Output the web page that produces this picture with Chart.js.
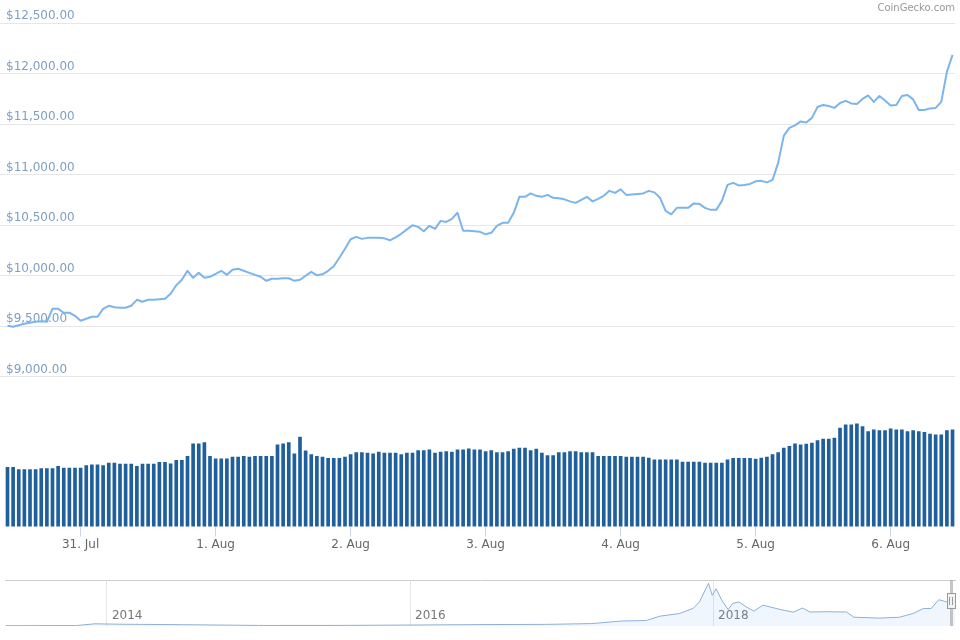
<!DOCTYPE html>
<html>

<head>
    <meta charset="utf-8">
    <script src="https://cdn.jsdelivr.net/npm/chart.js@4.4.2/dist/chart.umd.min.js"></script>
    <style>
        body { margin: 0; background: #fff; }
        #main { position: absolute; left: 0; top: 0; width: 960px; height: 560px; }
        #nav { position: absolute; left: 0; top: 560px; width: 960px; height: 80px; }
    </style>
</head>

<body>
    <div id="main"><canvas id="chart"></canvas></div>
    <div id="nav"><canvas id="navigator"></canvas></div>
</body>
<script>
    // hourly data, index 0 = 30 Jul 11:00
    const prices = [
        9504, 9494, 9509, 9524, 9534, 9544, 9549, 9544, 9672, 9672,
        9633, 9633, 9603, 9554, 9573, 9593, 9593, 9672, 9702, 9687,
        9682, 9682, 9702, 9761, 9742, 9761, 9761, 9766, 9771, 9821,
        9905, 9959, 10048, 9979, 10028, 9979, 9989, 10018, 10048, 10008,
        10058, 10068, 10048, 10028, 10008, 9989, 9949, 9969, 9969, 9974,
        9974, 9949, 9959, 9999, 10038, 10003, 10013, 10048, 10093, 10177,
        10266, 10360, 10384, 10364, 10374, 10374, 10374, 10369, 10350, 10379,
        10414, 10458, 10498, 10483, 10439, 10493, 10463, 10542, 10532, 10562,
        10622, 10444, 10444, 10439, 10434, 10409, 10424, 10493, 10523, 10523,
        10622, 10780, 10780, 10814, 10790, 10780, 10799, 10770, 10765, 10755,
        10735, 10720, 10750, 10780, 10735, 10760, 10790, 10839, 10819, 10854,
        10799, 10804, 10809, 10814, 10839, 10824, 10770, 10641, 10607, 10671,
        10671, 10671, 10715, 10710, 10671, 10651, 10651, 10740, 10898, 10918,
        10893, 10898, 10908, 10933, 10938, 10923, 10948, 11116, 11383, 11462,
        11487, 11526, 11516, 11561, 11669, 11689, 11679, 11660, 11709, 11729,
        11704, 11699, 11749, 11783, 11719, 11778, 11734, 11684, 11689, 11778,
        11788, 11744, 11640, 11640, 11655, 11660, 11719, 12016, 12184
    ];

    const volumes = [
        5.88, 5.88, 5.65, 5.65, 5.65, 5.65, 5.75, 5.75, 5.75, 5.98,
        5.82, 5.82, 5.82, 5.82, 6.07, 6.14, 6.14, 6.07, 6.31, 6.31,
        6.21, 6.21, 6.21, 5.98, 6.21, 6.21, 6.21, 6.37, 6.37, 6.24,
        6.57, 6.57, 6.97, 8.23, 8.23, 8.35, 6.97, 6.74, 6.74, 6.74,
        6.91, 6.91, 6.97, 6.91, 6.97, 6.97, 6.97, 6.97, 8.13, 8.23,
        8.35, 7.23, 8.89, 7.53, 7.14, 6.97, 6.91, 6.77, 6.77, 6.77,
        6.91, 7.14, 7.36, 7.36, 7.30, 7.23, 7.40, 7.30, 7.30, 7.30,
        7.14, 7.30, 7.30, 7.56, 7.56, 7.63, 7.30, 7.40, 7.46, 7.40,
        7.63, 7.63, 7.73, 7.63, 7.63, 7.46, 7.56, 7.36, 7.36, 7.46,
        7.70, 7.80, 7.80, 7.56, 7.70, 7.30, 7.04, 7.04, 7.36, 7.36,
        7.46, 7.46, 7.36, 7.36, 7.36, 6.97, 6.97, 6.97, 6.97, 6.97,
        6.91, 6.91, 6.91, 6.91, 6.81, 6.64, 6.64, 6.64, 6.64, 6.64,
        6.41, 6.41, 6.41, 6.41, 6.31, 6.31, 6.31, 6.31, 6.64, 6.77,
        6.77, 6.77, 6.77, 6.71, 6.81, 6.91, 7.14, 7.36, 7.80, 7.96,
        8.23, 8.13, 8.20, 8.29, 8.55, 8.69, 8.69, 8.79, 9.78, 10.11,
        10.11, 10.21, 9.94, 9.44, 9.61, 9.54, 9.54, 9.71, 9.61, 9.61,
        9.44, 9.54, 9.44, 9.35, 9.19, 9.12, 9.12, 9.54, 9.61
    ];

    const dayTicks = [13, 37, 61, 85, 109, 133, 157];
    const dayLabels = ['31. Jul', '1. Aug', '2. Aug', '3. Aug', '4. Aug', '5. Aug', '6. Aug'];
    const priceTicks = [9000, 9500, 10000, 10500, 11000, 11500, 12000, 12500];

    // full history for the navigator
    const navYears = [2013.33, 2013.8, 2013.92, 2014.1, 2014.5, 2015.0, 2015.5, 2016.0, 2016.5, 2016.9,
        2017.2, 2017.4, 2017.56, 2017.65, 2017.78, 2017.87, 2017.91, 2017.97, 2017.995, 2018.02,
        2018.06, 2018.10, 2018.13, 2018.17, 2018.22, 2018.27, 2018.33, 2018.44, 2018.53, 2018.59,
        2018.64, 2018.75, 2018.88, 2018.93, 2019.10, 2019.23, 2019.32, 2019.39, 2019.44, 2019.49,
        2019.54, 2019.597];
    const navPrices = [130, 200, 1000, 800, 600, 250, 260, 430, 650, 740,
        1100, 2300, 2500, 4500, 5700, 8100, 11000, 19500, 14000, 17000,
        11500, 7500, 10300, 11000, 8700, 6800, 9500, 7600, 6300, 8200,
        6400, 6500, 6400, 4000, 3600, 4000, 5700, 8000, 8000, 12000,
        11000, 12000];
    const navTicks = [2014, 2016, 2018];

    Chart.defaults.font.family = '"DejaVu Sans", sans-serif';
    Chart.defaults.animation = false;

    new Chart(document.getElementById('chart'), {
        data: {
            datasets: [
                {
                    type: 'line',
                    data: prices.map((p, i) => ({ x: i, y: p })),
                    borderColor: '#7cb5ec',
                    borderWidth: 2,
                    borderJoinStyle: 'round',
                    pointRadius: 0,
                    tension: 0,
                    yAxisID: 'y',
                    order: 0
                },
                {
                    type: 'bar',
                    data: volumes.map((v, i) => ({ x: i, y: v })),
                    backgroundColor: '#1f5f9c',
                    barThickness: 3,
                    yAxisID: 'yv',
                    order: 1
                }
            ]
        },
        options: {
            responsive: true,
            maintainAspectRatio: false,
            // the mirrored y axis still reserves 12px, pull the plot back to the edge
            layout: { padding: { left: -12, right: 5, top: 0, bottom: 7 } },
            plugins: {
                legend: { display: false },
                tooltip: { enabled: false },
                title: {
                    display: true,
                    text: 'CoinGecko.com',
                    align: 'end',
                    color: '#999',
                    font: { size: 10, weight: 'normal' },
                    padding: { top: 2, bottom: 9 }
                }
            },
            scales: {
                x: {
                    type: 'linear',
                    offset: false,
                    min: -1.333,
                    max: 168.44,
                    afterBuildTicks: axis => { axis.ticks = dayTicks.map(v => ({ value: v })); },
                    grid: { offset: false, drawOnChartArea: false, drawTicks: true, tickLength: 10, color: '#ccd6eb' },
                    border: { display: false },
                    ticks: {
                        color: '#666',
                        font: { size: 12 },
                        padding: 1,
                        maxRotation: 0,
                        autoSkip: false,
                        callback: v => dayLabels[dayTicks.indexOf(v)]
                    }
                },
                y: {
                    position: 'left',
                    min: 7517,
                    max: 12500,
                    afterBuildTicks: axis => { axis.ticks = priceTicks.map(v => ({ value: v })); },
                    grid: { color: '#e6e6e6', drawTicks: false },
                    border: { display: false },
                    ticks: {
                        mirror: true,
                        padding: 6,
                        labelOffset: -7,
                        color: '#7f9fc1',
                        font: { size: 12 },
                        callback: v => '$' + v.toLocaleString('en-US', { minimumFractionDigits: 2 })
                    }
                },
                yv: { display: false, min: 0, max: 50 }
            }
        }
    });

    // range handle at the right end of the navigator
    const handlePlugin = {
        id: 'handle',
        afterDatasetsDraw(chart) {
            const { ctx, chartArea, scales } = chart;
            const x = Math.round(scales.x.getPixelForValue(navYears[navYears.length - 1])) - 4;
            ctx.save();
            ctx.fillStyle = 'rgba(160,160,160,0.6)';
            ctx.fillRect(x - 1, chartArea.top, 3, chartArea.bottom - chartArea.top);
            ctx.fillStyle = '#f2f2f2';
            ctx.strokeStyle = '#999';
            ctx.lineWidth = 1;
            ctx.fillRect(x - 4, chartArea.top + 13, 8, 15);
            ctx.strokeRect(x - 3.5, chartArea.top + 13.5, 8, 15);
            ctx.beginPath();
            ctx.moveTo(x - 1.5, chartArea.top + 17);
            ctx.lineTo(x - 1.5, chartArea.top + 25);
            ctx.moveTo(x + 1.5, chartArea.top + 17);
            ctx.lineTo(x + 1.5, chartArea.top + 25);
            ctx.stroke();
            ctx.restore();
        }
    };

    new Chart(document.getElementById('navigator'), {
        type: 'line',
        data: {
            datasets: [{
                data: navYears.map((t, i) => ({ x: t, y: navPrices[i] })),
                borderColor: '#8cb0d8',
                borderWidth: 1,
                backgroundColor: 'rgba(124,181,236,0.12)',
                fill: 'origin',
                pointRadius: 0,
                tension: 0
            }]
        },
        options: {
            responsive: true,
            maintainAspectRatio: false,
            layout: { padding: { left: 5, right: 5, top: 20, bottom: 14 } },
            plugins: { legend: { display: false }, tooltip: { enabled: false } },
            scales: {
                x: {
                    type: 'linear',
                    min: 2013.327,
                    max: 2019.597,
                    position: { y: 7700 },
                    afterBuildTicks: axis => { axis.ticks = navTicks.map(v => ({ value: v })); },
                    grid: { color: '#e6e6e6', drawTicks: false },
                    border: { display: false },
                    ticks: {
                        align: 'start',
                        labelOffset: 5,
                        padding: 0,
                        color: '#777',
                        font: { size: 12 },
                        maxRotation: 0,
                        callback: v => String(v)
                    }
                },
                x2: {
                    type: 'linear',
                    position: 'top',
                    min: 0,
                    max: 1,
                    grid: { display: false, drawTicks: false },
                    ticks: { display: false },
                    border: { display: true, color: '#cccccc' }
                },
                y: { display: false, min: 0, max: 21000 }
            }
        },
        plugins: [handlePlugin]
    });
</script>

</html>
